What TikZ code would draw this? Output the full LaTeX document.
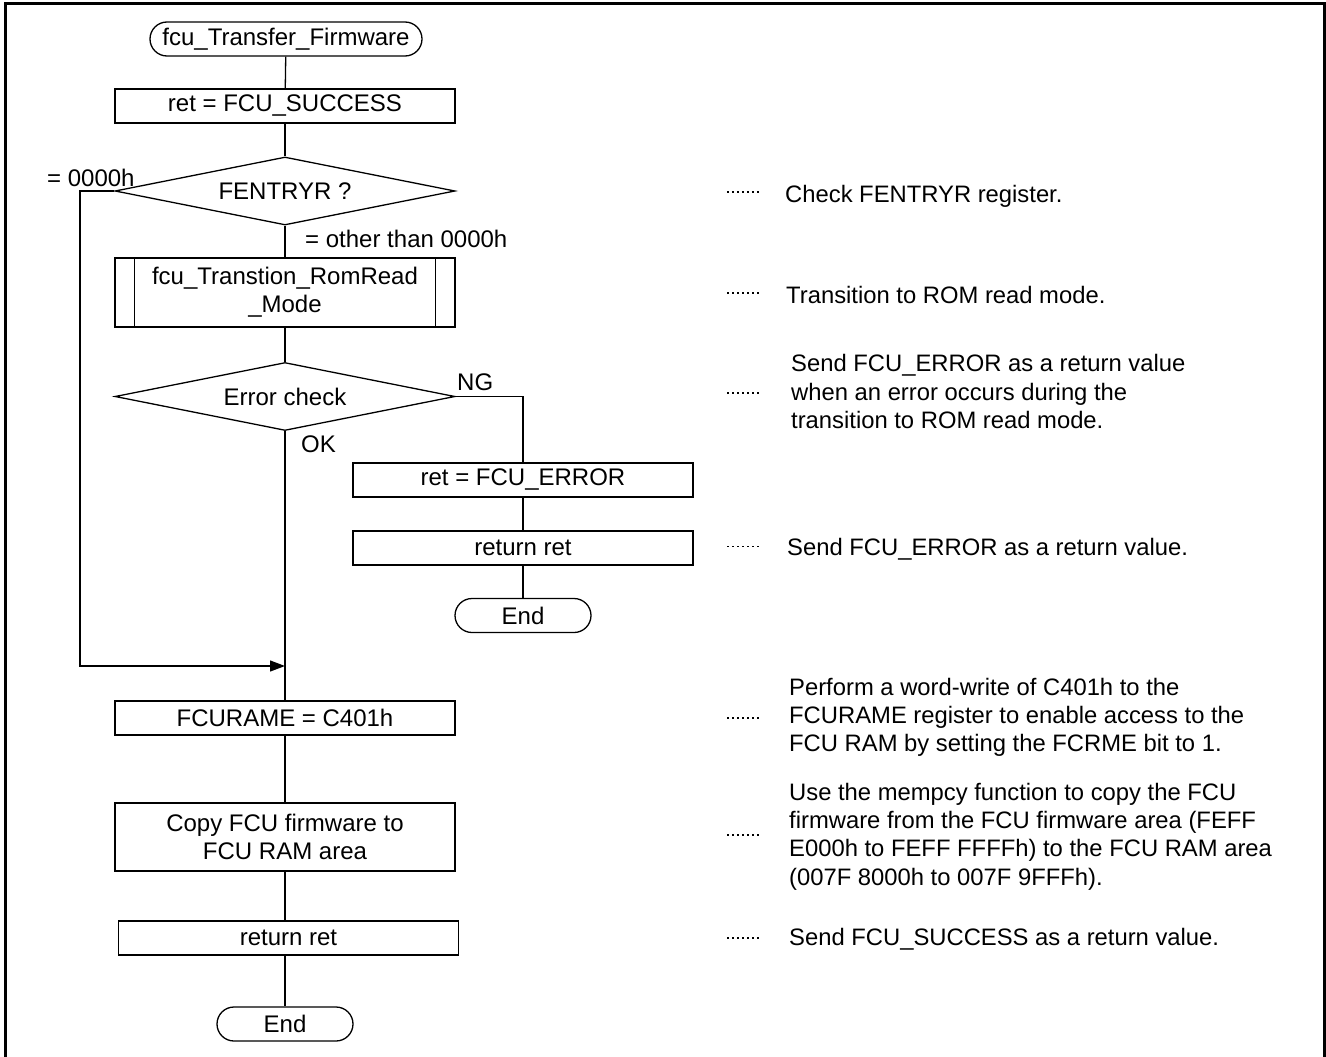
\documentclass[tikz,border=0pt]{standalone}
\usepackage{fontspec}
\setmainfont{Liberation Sans}
\usetikzlibrary{shapes.geometric,arrows.meta}

\begin{document}
\begin{tikzpicture}[x=1pt,y=-1pt,
  flow/.style={font=\fontsize{24}{28}\selectfont},
  proc/.style={draw, line width=1.3pt, rectangle, minimum width=340pt,
    minimum height=34pt, inner sep=0pt, align=center, flow},
  term/.style={draw, line width=1.3pt, rounded corners=17pt,
    minimum height=34pt, inner sep=0pt, flow},
  dec/.style={draw, line width=1.3pt, diamond, aspect=5, minimum width=340pt,
    minimum height=68pt, inner sep=0pt, flow},
  link/.style={line width=1.3pt},
  note/.style={anchor=north west, inner sep=0pt, align=left,
    font=\fontsize{23.8}{28.4}\selectfont},
  leader/.style={line width=1.4pt, dash pattern=on 1.6pt off 3.4pt},
  lbl/.style={anchor=base west, inner sep=0pt, flow}
]
\useasboundingbox (0,0) rectangle (1326,1057);

% frame
\draw[line width=3pt] (5,1057) -- (5,4) -- (1324,4) -- (1324,1057);

% main column
\node[term, minimum width=272pt] (start) at (286,39) {fcu\_Transfer\_Firmware};
\node[proc] (init) at (285,106) {ret = FCU\_SUCCESS};
\node[dec] (fent) at (285,191) {FENTRYR ?};
\node[proc, minimum height=69pt] (sub) at (285,292.5) {fcu\_Transtion\_RomRead\\\_Mode};
\node[dec] (echk) at (285,396.5) {Error check};
\node[proc] (seterr) at (523,480) {ret = FCU\_ERROR};
\node[proc] (reterr) at (523,548) {return ret};
\node[term, minimum width=136pt] (enderr) at (523,615.5) {End};
\node[proc] (rame) at (285,718) {FCURAME = C401h};
\node[proc, minimum height=68pt] (copy) at (285,837) {Copy FCU firmware to\\FCU RAM area};
\node[proc] (retok) at (288.5,938) {return ret};
\node[term, minimum width=136pt] (endok) at (285,1024) {End};

% subroutine side bars
\draw[link] ([xshift=20pt]sub.north west) -- ([xshift=20pt]sub.south west);
\draw[link] ([xshift=-20pt]sub.north east) -- ([xshift=-20pt]sub.south east);

% connectors
\coordinate (lb) at (80,666);
\coordinate (jn) at (285,666);
\draw[link] (start) -- (init);
\draw[link] (init) -- (fent);
\draw[link] (fent) -- (sub);
\draw[link] (sub) -- (echk);
\draw[link] (echk.south) -- (rame.north);
\draw[link] (rame) -- (copy);
\draw[link] (copy.south) -- (copy.south |- retok.north);
\draw[link] (copy.south |- retok.south) -- (endok.north);
\draw[link] (echk.east) -| (seterr.north);
\draw[link] (seterr) -- (reterr);
\draw[link] (reterr) -- (enderr);
\draw[link, -{Triangle[length=15pt,width=11pt]}] (fent.west) -| (lb) -- (jn);

% branch labels
\node[lbl] (l0) at (47,186) {= 0000h};
\node[lbl] (l1) at (305,247) {= other than 0000h};
\node[lbl] (lng) at (457,390) {NG};
\node[lbl] (lok) at (301,452) {OK};

% notes
\node[note] (c1) at (785,182.1) {\strut Check FENTRYR register.};
\node[note] (c2) at (786,283.1) {\strut Transition to ROM read mode.};
\node[note] (c3) at (791,351.8) {\strut Send FCU\_ERROR as a return value\\when an error occurs during the\\transition to ROM read mode.};
\node[note] (c4) at (787,535.1) {\strut Send FCU\_ERROR as a return value.};
\node[note] (c5) at (789,675.1) {\strut Perform a word-write of C401h to the\\FCURAME register to enable access to the\\FCU RAM by setting the FCRME bit to 1.};
\node[note] (c6) at (789,780.1) {\strut Use the mempcy function to copy the FCU\\firmware from the FCU firmware area (FEFF\\E000h to FEFF FFFFh) to the FCU RAM area\\(007F 8000h to 007F 9FFFh).};
\node[note] (c7) at (789,925.1) {\strut Send FCU\_SUCCESS as a return value.};

% dotted leaders
\foreach \yy in {192,293,393,546.7,718,835,938}
  \draw[leader] (727,\yy) -- (760,\yy);
\end{tikzpicture}
\end{document}
